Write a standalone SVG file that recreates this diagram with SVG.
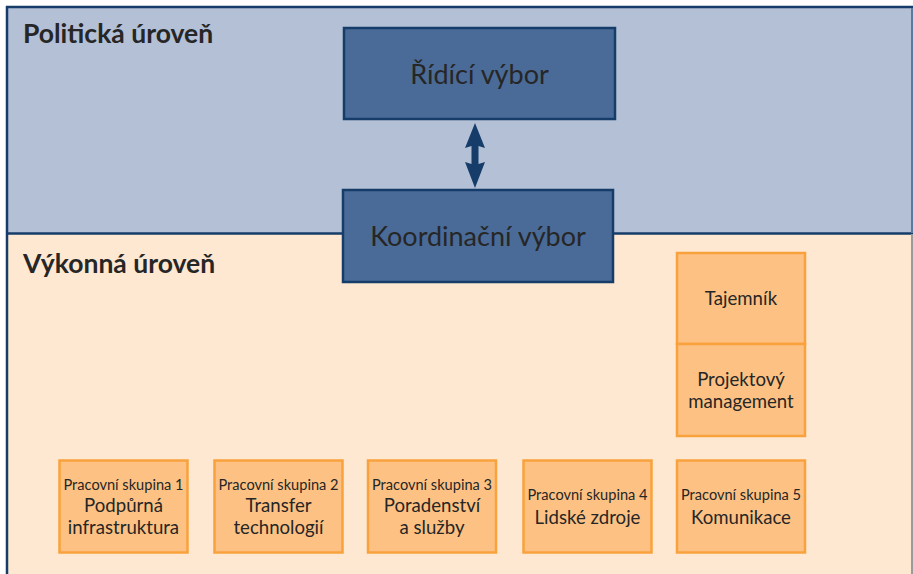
<svg xmlns="http://www.w3.org/2000/svg" width="913" height="574" viewBox="0 0 913 574">
<style>
text{font-family:Lato,"Open Sans","Noto Sans",sans-serif;fill:#262626;text-anchor:middle}
.title{font-weight:bold;font-size:26.5px;text-anchor:start}
.big{font-size:27px}
.blue{fill:#4a6b97;stroke:#163d6a;stroke-width:2.5}
.org{fill:#fdc283;stroke:#f9a13c;stroke-width:2.5}
.sm{font-size:14.6px}
.md{font-size:18.6px}
</style>
<rect x="0" y="0" width="913" height="574" fill="#ffffff"/>
<rect x="7" y="7" width="906" height="226" fill="#b3c0d6"/>
<rect x="7" y="234" width="906" height="340" fill="#fee8d2"/>
<line x1="6" y1="7" x2="913" y2="7" stroke="#163d6a" stroke-width="2.5"/>
<line x1="7" y1="6" x2="7" y2="574" stroke="#163d6a" stroke-width="2.5"/>
<line x1="7" y1="233.5" x2="913" y2="233.5" stroke="#163d6a" stroke-width="2.5"/>
<line x1="912" y1="8" x2="912" y2="233" stroke="#5a7aa0" stroke-width="2"/>
<line x1="912" y1="234" x2="912" y2="574" stroke="#9a9a9a" stroke-width="2"/>
<text class="title" x="23" y="43">Politická úroveň</text>
<text class="title" x="23" y="273">Výkonná úroveň</text>
<g id="connectors">
<path d="M475,123 L465,148 L471.5,146 L471.5,164 L465,162 L475,188 L485,162 L478.5,164 L478.5,146 L485,148 Z" fill="#163d6a"/>
</g>
<g id="ridici">
<rect class="blue" x="344" y="28" width="271" height="91"/>
<text class="big" x="479.5" y="84">Řídící výbor</text>
</g>
<g id="koordinacni">
<rect class="blue" x="343" y="190" width="270" height="92"/>
<text class="big" x="478" y="246">Koordinační výbor</text>
</g>
<g id="tajemnik">
<rect class="org" x="677" y="253" width="128" height="91"/>
<text class="md" x="741" y="305">Tajemník</text>
</g>
<g id="projektovy">
<rect class="org" x="677" y="344" width="128" height="92"/>
<text class="md" x="741" y="386">Projektový</text>
<text class="md" x="741" y="408">management</text>
</g>
<g id="ps1">
<rect class="org" x="59.5" y="460.5" width="128" height="92"/>
<text class="sm" x="123.5" y="490">Pracovní skupina 1</text>
<text class="md" x="123.5" y="512">Podpůrná</text>
<text class="md" x="123.5" y="534">infrastruktura</text>
</g>
<g id="ps2">
<rect class="org" x="214.5" y="460.5" width="128" height="92"/>
<text class="sm" x="278.5" y="490">Pracovní skupina 2</text>
<text class="md" x="278.5" y="512">Transfer</text>
<text class="md" x="278.5" y="534">technologií</text>
</g>
<g id="ps3">
<rect class="org" x="368" y="460.5" width="128" height="92"/>
<text class="sm" x="432" y="490">Pracovní skupina 3</text>
<text class="md" x="432" y="512">Poradenství</text>
<text class="md" x="432" y="534">a služby</text>
</g>
<g id="ps4">
<rect class="org" x="523.5" y="460.5" width="128" height="92"/>
<text class="sm" x="587.5" y="500">Pracovní skupina 4</text>
<text class="md" x="587.5" y="524">Lidské zdroje</text>
</g>
<g id="ps5">
<rect class="org" x="677" y="460.5" width="128" height="92"/>
<text class="sm" x="741" y="500">Pracovní skupina 5</text>
<text class="md" x="741" y="524">Komunikace</text>
</g>
</svg>
